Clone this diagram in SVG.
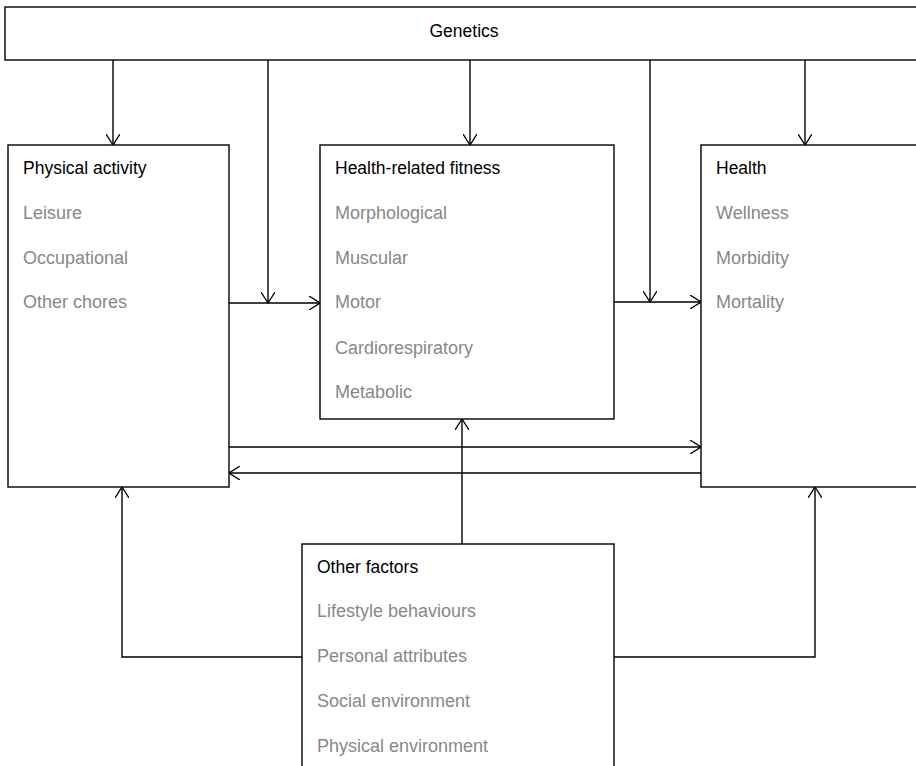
<svg xmlns="http://www.w3.org/2000/svg" width="916" height="766" viewBox="0 0 916 766">
<defs>
<marker id="ah" viewBox="0 0 12 14" refX="11" refY="7" markerWidth="12" markerHeight="14" markerUnits="userSpaceOnUse" orient="auto">
<path d="M0,0 L11,7 L0,14" fill="none" stroke="#000" stroke-width="1.3"/>
</marker>
<style>
.box{fill:#fff;stroke:#000;stroke-width:1.4}
.t{font-family:"Liberation Sans",Arial,sans-serif;font-size:17.5px;fill:#000}
.i{font-family:"Liberation Sans",Arial,sans-serif;font-size:18px;fill:#888}
.c{fill:none;stroke:#000;stroke-width:1.4}
</style>
</defs>
<rect width="916" height="766" fill="#fff"/>
<g id="connectors">
<path class="c" d="M113,60 V145" marker-end="url(#ah)"/>
<path class="c" d="M268,60 V303" marker-end="url(#ah)"/>
<path class="c" d="M470,60 V145" marker-end="url(#ah)"/>
<path class="c" d="M650,60 V302" marker-end="url(#ah)"/>
<path class="c" d="M805,60 V145" marker-end="url(#ah)"/>
<path class="c" d="M229,303 H320" marker-end="url(#ah)"/>
<path class="c" d="M614,302 H701" marker-end="url(#ah)"/>
<path class="c" d="M229,447 H701" marker-end="url(#ah)"/>
<path class="c" d="M701,473 H229" marker-end="url(#ah)"/>
<path class="c" d="M462,544 V419" marker-end="url(#ah)"/>
<path class="c" d="M302,657 H122 V487" marker-end="url(#ah)"/>
<path class="c" d="M614,657 H815 V487" marker-end="url(#ah)"/>
</g>
<g id="genetics">
<rect class="box" x="5" y="7" width="920" height="53"/>
<text class="t" x="464" y="37" text-anchor="middle">Genetics</text>
</g>
<g id="physical-activity">
<rect class="box" x="8" y="145" width="221" height="342"/>
<text class="t" x="23" y="174">Physical activity</text>
<text class="i" x="23" y="219">Leisure</text>
<text class="i" x="23" y="264">Occupational</text>
<text class="i" x="23" y="308">Other chores</text>
</g>
<g id="health-related-fitness">
<rect class="box" x="320" y="145" width="294" height="274"/>
<text class="t" x="335" y="174">Health-related fitness</text>
<text class="i" x="335" y="219">Morphological</text>
<text class="i" x="335" y="264">Muscular</text>
<text class="i" x="335" y="308">Motor</text>
<text class="i" x="335" y="354">Cardiorespiratory</text>
<text class="i" x="335" y="398">Metabolic</text>
</g>
<g id="health">
<rect class="box" x="701" y="145" width="230" height="342"/>
<text class="t" x="716" y="174">Health</text>
<text class="i" x="716" y="219">Wellness</text>
<text class="i" x="716" y="264">Morbidity</text>
<text class="i" x="716" y="308">Mortality</text>
</g>
<g id="other-factors">
<rect class="box" x="302" y="544" width="312" height="240"/>
<text class="t" x="317" y="573">Other factors</text>
<text class="i" x="317" y="617">Lifestyle behaviours</text>
<text class="i" x="317" y="662">Personal attributes</text>
<text class="i" x="317" y="707">Social environment</text>
<text class="i" x="317" y="752">Physical environment</text>
</g>
</svg>
